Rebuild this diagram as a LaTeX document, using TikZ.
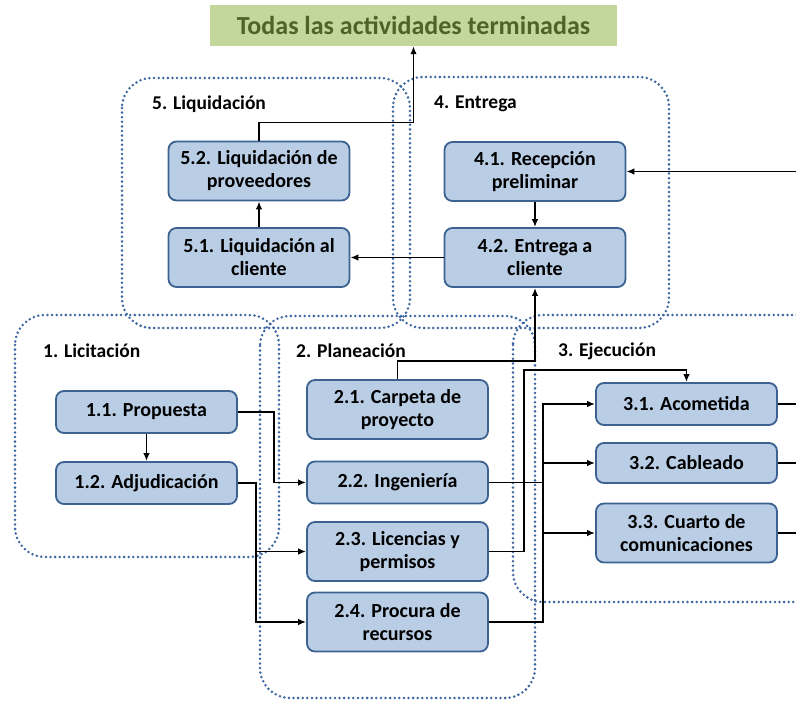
\documentclass[tikz,border=0pt]{standalone}
\usepackage{fontspec}
\setmainfont{Carlito}
\usetikzlibrary{arrows.meta,positioning,calc}
\definecolor{taskfill}{RGB}{185,205,229}
\definecolor{taskline}{RGB}{60,98,145}
\definecolor{phaseline}{RGB}{60,102,162}
\definecolor{goalfill}{RGB}{195,214,155}
\definecolor{goaltext}{RGB}{79,98,40}

\begin{document}
\begin{tikzpicture}[x=1pt, y=-1pt, >={Latex[length=8pt,width=6.5pt]},
    task/.style={draw=taskline, fill=taskfill, line width=1.8pt, rounded corners=8pt,
      minimum width=181pt, minimum height=42pt, inner sep=1pt, align=center,
      font=\fontsize{20}{23}\selectfont\bfseries},
    tall/.style={minimum height=59pt},
    phase/.style={draw=phaseline, line width=2.8pt, dash pattern=on 0pt off 4.6pt,
      line cap=round, rounded corners=30pt},
    phasename/.style={anchor=west, inner sep=0pt, font=\fontsize{19.5}{22}\selectfont\bfseries},
    link/.style={line width=1.6pt}]
    \clip (0,0) rectangle (796,701);

    % Phase groups (dotted)
    \draw[phase] (15,315) rectangle (279,557);
    \draw[phase] (260,316) rectangle (535,698);
    \draw[phase] (513,315) rectangle (830,602);
    \draw[phase] (393,77) rectangle (669,328);
    \draw[phase] (122,78) rectangle (410,328);

    \node[phasename] (p1) at (43,351) {1. Licitación};
    \node[phasename] (p2) at (296,351) {2. Planeación};
    \node[phasename] (p3) at (558,351) {3. Ejecución};
    \node[phasename] (p4) at (434,104) {4. Entrega};
    \node[phasename] (p5) at (152,104) {5. Liquidación};

    % Goal on top
    \node[fill=goalfill, minimum width=407pt, minimum height=41pt, inner sep=0pt,
      text=goaltext, font=\fontsize{26}{29}\selectfont\bfseries] (goal) at (413.5,25.5)
      {Todas las actividades terminadas};

    % 1. Licitacion
    \node[task] (t11) at (146.5,412) {1.1. Propuesta};
    \node[task] (t12) at (146.5,483) {1.2. Adjudicación};

    % 2. Planeacion
    \node[task, tall] (t21) at (397.5,409.5) {2.1. Carpeta de\\proyecto};
    \node[task] (t22) at (397.5,482.5) {2.2. Ingeniería};
    \node[task, tall] (t23) at (397.5,551.5) {2.3. Licencias y\\permisos};
    \node[task, tall] (t24) at (397.5,622) {2.4. Procura de\\recursos};

    % 3. Ejecucion
    \node[task] (t31) at (686.5,404) {3.1. Acometida};
    \node[task, minimum height=40pt] (t32) at (686.5,463) {3.2. Cableado};
    \node[task, tall] (t33) at (686.5,533) {3.3. Cuarto de\\comunicaciones};

    % 4. Entrega
    \node[task, tall] (t41) at (535,171.5) {4.1. Recepción\\preliminar};
    \node[task, tall] (t42) at (535,257.5) {4.2. Entrega a\\cliente};

    % 5. Liquidacion
    \node[task, tall] (t51) at (259,257.5) {5.1. Liquidación al\\cliente};
    \node[task, tall] (t52) at (259,171) {5.2. Liquidación de\\proveedores};

    % free ends on the right border
    \coordinate (in41) at (796,171.5);
    \coordinate (out31) at (796,404);
    \coordinate (out32) at (796,463);
    \coordinate (out33) at (796,533);

    % Connectors
    \draw[link,->] (t11) -- (t12);
    \draw[link,->] (t11.east) -- ++(36,0) |- (t22.west);
    \draw[link,->] (t12.east) -- ++(18,0) coordinate (j12) |- (t24.west);
    \draw[link,->] (j12) |- (t23.west);

    \draw[link,->] (t22.east) -- ++(54,0) coordinate (j22) |- (t31.west);
    \draw[link,->] (j22) |- (t32.west);
    \draw[link,->] (j22) |- (t33.west);
    \draw[link] (t24.east) -| (j22);
    \draw[link,->] (t23.east) -- ++(35,0) |- ([yshift=12pt]t31.north) -- (t31.north);
    \draw[link,->] (t21.north) -- ([yshift=18pt]t21.north) -| (t42.south);

    \draw[link] (t31.east) -- (out31);
    \draw[link] (t32.east) -- (out32);
    \draw[link] (t33.east) -- (out33);
    \draw[link,->] (in41) -- (t41.east);

    \draw[link,->] (t41) -- (t42);
    \draw[link,->] (t42) -- (t51);
    \draw[link,->] (t51) -- (t52);
    \draw[link,->] (t52.north) -- ([yshift=18pt]t52.north) -| (goal.south);
\end{tikzpicture}
\end{document}
